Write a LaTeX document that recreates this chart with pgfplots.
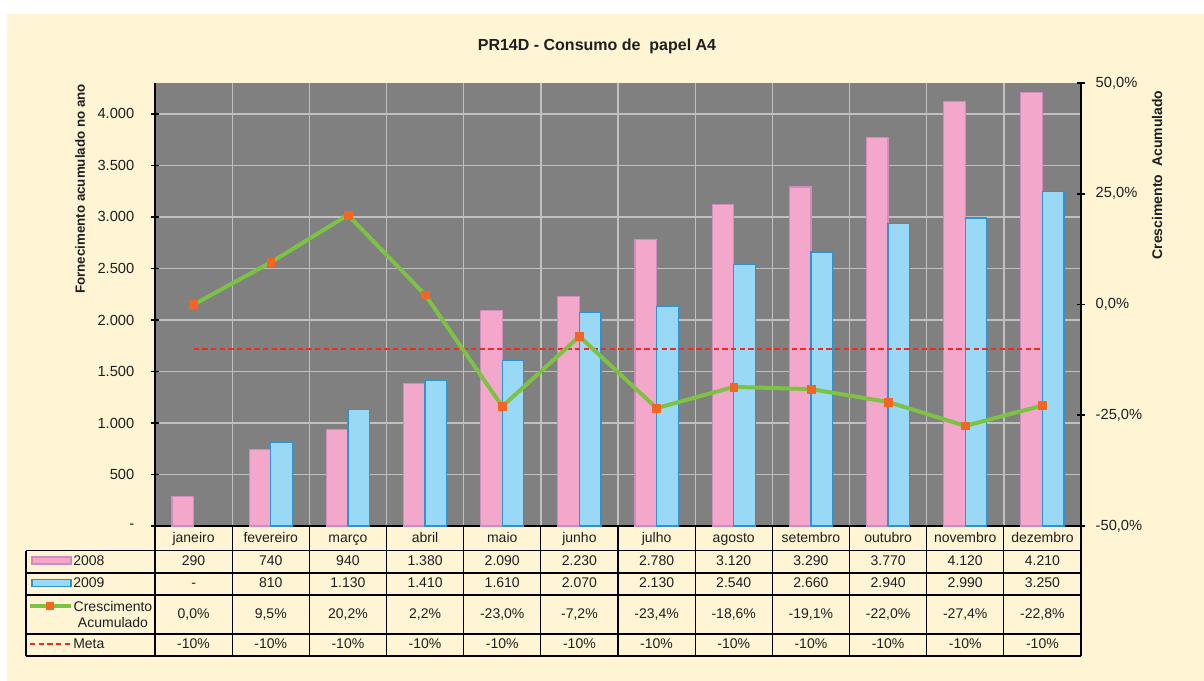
\documentclass[border=0pt]{standalone}
\usepackage{fontspec}
\setmainfont{Liberation Sans}
\usepackage{pgfplots}
\pgfplotsset{compat=1.18}

\definecolor{bgyellow}{HTML}{FFF5D5}
\definecolor{plotgray}{HTML}{808080}
\definecolor{gridgray}{HTML}{C0C0C0}
\definecolor{pinkfill}{HTML}{F3A8CB}
\definecolor{pinkedge}{HTML}{D08CBA}
\definecolor{bluefill}{HTML}{99D9F5}
\definecolor{blueedge}{HTML}{2F93D0}
\definecolor{linegreen}{HTML}{7DC242}
\definecolor{mkorange}{HTML}{F26522}
\definecolor{metared}{HTML}{EE2A24}
\definecolor{txt}{HTML}{1E1E1E}

\newcommand\tfont{\fontsize{10.5}{12.5}\selectfont}
\newcommand\kfont{\fontsize{11}{13}\selectfont}

\begin{document}
\begin{tikzpicture}
% px-based frame: (x,y) in reference pixels from the top left
\begin{scope}[x=0.75pt,y=-0.75pt]
\useasboundingbox (0,0) rectangle (1204,681);
\fill[white] (0,0) rectangle (1204,681);
\fill[bgyellow] (7,14) rectangle (1204,681);
\end{scope}

% bars, left axis
\begin{axis}[
  at={(116.25pt,-394.5pt)}, anchor=south west,
  scale only axis, width=694.5pt, height=332.25pt,
  xmin=0.5, xmax=12.5, ymin=0, ymax=4300,
  axis background/.style={fill=plotgray},
  ybar, bar width=0.28,
  xtick={1.5,2.5,...,11.5}, xticklabels={}, xtick style={draw=none},
  xmajorgrids, ymajorgrids,
  grid style={gridgray, line width=1pt},
  ytick={0,500,...,4000},
  yticklabels={-,500,1.000,1.500,2.000,2.500,3.000,3.500,4.000},
  axis x line*=bottom, axis y line*=left,
  axis line style={black, line width=1.4pt},
  ytick style={black, line width=1.2pt},
  tick align=center, major tick length=6pt,
  tick label style={font=\kfont, text=txt},
  yticklabel style={xshift=-9pt},
]
\addplot[ybar, bar shift=-0.14, fill=pinkfill, draw=pinkedge, line width=0.9pt]
  coordinates {(1,290) (2,740) (3,940) (4,1380) (5,2090) (6,2230)
               (7,2780) (8,3120) (9,3290) (10,3770) (11,4120) (12,4210)};
\addplot[ybar, bar shift=0.14, fill=bluefill, draw=blueedge, line width=0.9pt]
  coordinates {(2,810) (3,1130) (4,1410) (5,1610) (6,2070)
               (7,2130) (8,2540) (9,2660) (10,2940) (11,2990) (12,3250)};
\end{axis}

% growth and target, right axis
\begin{axis}[
  at={(116.25pt,-394.5pt)}, anchor=south west,
  scale only axis, width=694.5pt, height=332.25pt,
  xmin=0.5, xmax=12.5, ymin=-50, ymax=50,
  axis x line=none, axis y line*=right,
  axis line style={black, line width=1.4pt},
  ytick={-50,-25,0,25,50},
  yticklabels={{-50,0\%},{-25,0\%},{0,0\%},{25,0\%},{50,0\%}},
  ytick style={black, line width=1.2pt},
  tick align=center, major tick length=6pt,
  tick label style={font=\kfont, text=txt},
  yticklabel style={xshift=4.5pt},
]
\addplot[metared, line width=1.6pt, dash pattern=on 4pt off 2.5pt]
  coordinates {(1,-10) (2,-10) (3,-10) (4,-10) (5,-10) (6,-10)
               (7,-10) (8,-10) (9,-10) (10,-10) (11,-10) (12,-10)};
\addplot[linegreen, line width=3pt, mark=square*, mark size=2.9pt,
  mark options={solid, fill=mkorange, draw=mkorange, line width=0.4pt}]
  coordinates {(1,0.0) (2,9.5) (3,20.2) (4,2.2) (5,-23.0) (6,-7.2)
               (7,-23.4) (8,-18.6) (9,-19.1) (10,-22.0) (11,-27.4) (12,-22.8)};
\end{axis}

\begin{scope}[x=0.75pt,y=-0.75pt]
% titles
\node[font=\bfseries\fontsize{12}{14}\selectfont, text=txt] at (597,46) {PR14D - Consumo de \ papel A4};
\node[rotate=90, font=\bfseries\fontsize{10}{12}\selectfont, text=txt] at (80,189) {Fornecimento acumulado no ano};
\node[rotate=90, font=\bfseries\tfont, text=txt] at (1157,175) {Crescimento \ Acumulado};

% data table
\begin{scope}[line width=0.9pt]
\foreach \yy in {550.5,573,595,634,656} \draw (26,\yy) -- (1081,\yy);
\draw (26,550.5) -- (26,656);
\foreach \k in {1,...,11} \draw ({155+\k*77.1667},526) -- ({155+\k*77.1667},656);
\draw[line width=1.4pt] (155,526) -- (155,656);
\draw[line width=1.4pt] (1081,526) -- (1081,656);
\end{scope}

\begin{scope}[font=\tfont, text=txt, every node/.style={text height=7.6pt, text depth=2.2pt}]
\foreach \v [count=\i] in {janeiro,fevereiro,março,abril,maio,junho,julho,agosto,setembro,outubro,novembro,dezembro}
  \node at ({155+(\i-0.5)*77.1667},538.5) {\v};
\foreach \v [count=\i] in {290,740,940,1.380,2.090,2.230,2.780,3.120,3.290,3.770,4.120,4.210}
  \node at ({155+(\i-0.5)*77.1667},562) {\v};
\foreach \v [count=\i] in {-,810,1.130,1.410,1.610,2.070,2.130,2.540,2.660,2.940,2.990,3.250}
  \node at ({155+(\i-0.5)*77.1667},584) {\v};
\foreach \v [count=\i] in {{0,0\%},{9,5\%},{20,2\%},{2,2\%},{-23,0\%},{-7,2\%},{-23,4\%},{-18,6\%},{-19,1\%},{-22,0\%},{-27,4\%},{-22,8\%}}
  \node at ({155+(\i-0.5)*77.1667},615) {\v};
\foreach \i in {1,...,12}
  \node at ({155+(\i-0.5)*77.1667},645) {-10\%};

% legend keys
\draw[pinkedge, fill=pinkfill, line width=0.8pt] (32,557) rectangle (71,564);
\node[anchor=west, inner sep=0] at (73,561.5) {2008};
\draw[blueedge, fill=bluefill, line width=0.8pt] (32,579.5) rectangle (71,586.5);
\node[anchor=west, inner sep=0] at (73,584) {2009};
\draw[linegreen, line width=3pt] (30,606) -- (71,606);
\fill[mkorange] (46,602) rectangle (54,610);
\draw[metared, line width=1.6pt, dash pattern=on 4pt off 2.5pt] (30,644) -- (71,644);
\node[anchor=west, inner sep=0] at (73,644.5) {Meta};
\end{scope}
\node[align=center, inner sep=0, font=\tfont, text=txt] at (113,614.5) {Crescimento\\Acumulado};
\end{scope}
\end{tikzpicture}
\end{document}
